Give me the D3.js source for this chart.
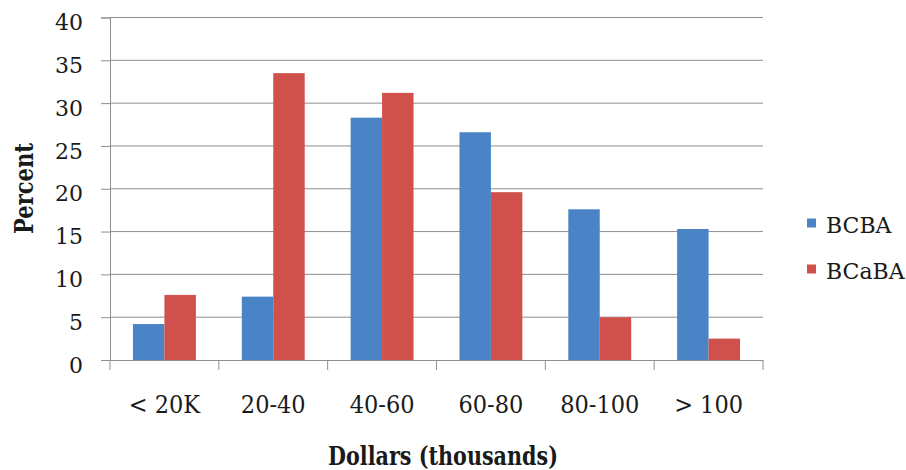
<!DOCTYPE html>
<html>
<head>
<meta charset="utf-8">
<script src="https://cdn.jsdelivr.net/npm/d3@7"></script>
<style>
  html, body { margin: 0; padding: 0; background: #fff; }
  svg text { font-family: "DejaVu Serif", "Liberation Serif", serif; fill: #1a1a1a; }
</style>
</head>
<body>
<svg id="chart" width="906" height="470"></svg>
<script>
// Salary bands (thousands of dollars) and share of respondents per credential
const categories = ["< 20K", "20-40", "40-60", "60-80", "80-100", "> 100"];
const seriesNames = ["BCBA", "BCaBA"];
const bcba  = [4.2, 7.4, 28.3, 26.6, 17.6, 15.3];
const bcaba = [7.6, 33.5, 31.2, 19.6, 5.0, 2.5];
const yTicks = [0, 5, 10, 15, 20, 25, 30, 35, 40];
const colors = ["#4A84C6", "#D0514C"];

const svg = d3.select("#chart");
const plotLeft = 110, plotRight = 763, plotTop = 17.5, plotBottom = 360;

const x = d3.scaleBand().domain(categories).range([plotLeft, plotRight]).padding(0);
const xs = d3.scaleBand().domain(seriesNames).range([0, x.bandwidth()])
  .paddingInner(0).paddingOuter(0.73);
const y = d3.scaleLinear().domain([0, 40]).range([plotBottom, plotTop]);
const color = d3.scaleOrdinal().domain(seriesNames).range(colors);

// horizontal gridlines
svg.append("g")
  .selectAll("line")
  .data(yTicks.filter(t => t > 0))
  .join("line")
  .attr("x1", plotLeft).attr("x2", plotRight)
  .attr("y1", d => y(d)).attr("y2", d => y(d))
  .attr("stroke", "#8e8e8e").attr("stroke-width", 1);

// y axis
const yAxis = svg.append("g")
  .attr("transform", `translate(${plotLeft},0)`)
  .call(d3.axisLeft(y).tickValues(yTicks).tickSize(9).tickPadding(18));
yAxis.select(".domain").attr("stroke", "#8e8e8e");
yAxis.selectAll(".tick line").attr("stroke", "#8e8e8e");
yAxis.selectAll(".tick text")
  .attr("font-size", 22).attr("dy", "0.55em")
  .style("font-family", "DejaVu Serif").attr("fill", "#1a1a1a");

// bars
const rows = categories.map((c, i) => ({ cat: c, values: [
  { key: "BCBA", value: bcba[i] }, { key: "BCaBA", value: bcaba[i] }
]}));
svg.append("g")
  .selectAll("g")
  .data(rows)
  .join("g")
  .attr("transform", d => `translate(${x(d.cat)},0)`)
  .selectAll("rect")
  .data(d => d.values)
  .join("rect")
  .attr("x", d => xs(d.key))
  .attr("width", xs.bandwidth())
  .attr("y", d => y(d.value))
  .attr("height", d => y(0) - y(d.value))
  .attr("fill", d => color(d.key));

// x axis (labels set slightly condensed, as a narrow serif face)
const xAxis = svg.append("g")
  .attr("transform", `translate(0,${plotBottom})`)
  .call(d3.axisBottom(x).tickSize(0).tickPadding(0));
xAxis.select(".domain").attr("stroke", "#8e8e8e");
xAxis.selectAll(".tick text")
  .attr("y", 53).attr("dy", 0)
  .attr("font-size", 25)
  .attr("transform", "scale(0.9,1)")
  .style("font-family", "DejaVu Serif").attr("fill", "#1a1a1a");

// category boundary ticks
const edges = categories.map(c => x(c)).concat([plotRight]);
svg.append("g")
  .selectAll("line")
  .data(edges)
  .join("line")
  .attr("x1", d => d).attr("x2", d => d)
  .attr("y1", plotBottom).attr("y2", plotBottom + 10)
  .attr("stroke", "#8e8e8e");

// axis titles
svg.append("text")
  .attr("transform", "translate(33,188.5) rotate(-90)")
  .attr("text-anchor", "middle")
  .attr("font-size", 26).attr("font-weight", "bold")
  .attr("textLength", 91).attr("lengthAdjust", "spacingAndGlyphs")
  .text("Percent");

svg.append("text")
  .attr("x", 443).attr("y", 465)
  .attr("text-anchor", "middle")
  .attr("font-size", 26).attr("font-weight", "bold")
  .attr("textLength", 230).attr("lengthAdjust", "spacingAndGlyphs")
  .text("Dollars (thousands)");

// legend
const legend = svg.append("g")
  .selectAll("g")
  .data(seriesNames)
  .join("g")
  .attr("transform", (d, i) => `translate(807,${223 + i * 46})`);
legend.append("rect")
  .attr("x", 0).attr("y", -4.5)
  .attr("width", 9).attr("height", 9)
  .attr("fill", d => color(d));
legend.append("text")
  .attr("x", 19).attr("y", 10)
  .attr("font-size", 22)
  .text(d => d);
</script>
</body>
</html>
